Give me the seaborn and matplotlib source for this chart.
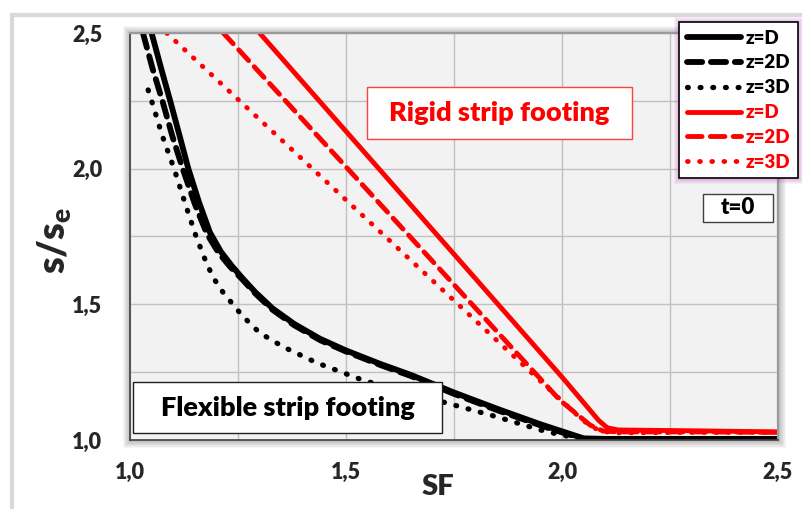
import matplotlib
matplotlib.use("Agg")
import matplotlib.pyplot as plt
from matplotlib.patches import Rectangle
from matplotlib.ticker import MultipleLocator, FixedLocator, FixedFormatter
import seaborn as sns
import pandas as pd

# ---------------- data ----------------
sf_flex_D = [1.050, 1.072, 1.093, 1.115, 1.135, 1.16, 1.185, 1.21, 1.235, 1.26, 1.29, 1.33,
             1.38, 1.44, 1.50, 1.58, 1.65, 1.75, 1.85, 1.95, 2.00, 2.05, 2.10, 2.50]
s_flex_D = [2.50, 2.37, 2.25, 2.12, 2.00, 1.875, 1.765, 1.695, 1.643, 1.597, 1.545, 1.485,
            1.428, 1.373, 1.330, 1.280, 1.240, 1.175, 1.115, 1.058, 1.032, 1.006, 1.004, 1.004]

sf_flex_2D = [1.030, 1.052, 1.075, 1.098, 1.122, 1.15, 1.178, 1.205, 1.232, 1.26, 1.29, 1.33,
              1.38, 1.44, 1.50, 1.58, 1.65, 1.75, 1.85, 1.95, 2.00, 2.05, 2.10, 2.50]
s_flex_2D = [2.50, 2.37, 2.25, 2.12, 2.00, 1.87, 1.76, 1.69, 1.638, 1.592, 1.54, 1.48,
             1.423, 1.368, 1.326, 1.276, 1.236, 1.170, 1.110, 1.054, 1.028, 1.004, 1.001, 1.001]

sf_flex_3D = [1.042, 1.05, 1.075, 1.102, 1.128, 1.153, 1.172, 1.192, 1.215, 1.238, 1.26, 1.30,
              1.355, 1.433, 1.54, 1.64, 1.734, 1.85, 1.95, 2.00, 2.05, 2.10, 2.50]
s_flex_3D = [2.29, 2.25, 2.12, 2.00, 1.87, 1.75, 1.672, 1.60, 1.545, 1.50, 1.458, 1.395,
             1.343, 1.284, 1.22, 1.175, 1.136, 1.085, 1.037, 1.018, 1.003, 1.000, 1.000]

sf_rigid_D = [1.30, 2.00, 2.085, 2.105, 2.13, 2.30, 2.50]
s_rigid_D = [2.50, 1.232, 1.072, 1.045, 1.037, 1.034, 1.030]

sf_rigid_2D = [1.216, 1.995, 2.065, 2.095, 2.13, 2.30, 2.50]
s_rigid_2D = [2.50, 1.147, 1.055, 1.033, 1.030, 1.030, 1.028]

sf_rigid_3D = [1.085, 1.98, 2.05, 2.085, 2.12, 2.30, 2.50]
s_rigid_3D = [2.50, 1.173, 1.07, 1.035, 1.026, 1.028, 1.028]

series_labels = ["z=D", "z=2D", "z=3D", "z=D", "z=2D", "z=3D"]
xtick_values = [1.0, 1.5, 2.0, 2.5]
xtick_labels = ["1,0", "1,5", "2,0", "2,5"]
ytick_values = [1.0, 1.5, 2.0, 2.5]
ytick_labels = ["1,0", "1,5", "2,0", "2,5"]
label_rigid = "Rigid strip footing"
label_flex = "Flexible strip footing"
label_time = "t=0"

# ---------------- style ----------------
sns.set_style("white")
plt.rcParams["font.family"] = ["Lato", "DejaVu Sans"]
plt.rcParams["font.weight"] = "heavy"
plt.rcParams["mathtext.default"] = "regular"
WT = "heavy"

W, H = 803, 509
fig = plt.figure(figsize=(W / 100, H / 100), dpi=100)
fig.patch.set_facecolor("white")

L, R, T, B = 130, 778, 33, 440
ax = fig.add_axes([L / W, 1 - B / H, (R - L) / W, (B - T) / H])
ax.set_facecolor("#f2f2f2")

# outer light frame
fig.add_artist(Rectangle((12 / W, -0.1), 1.2, 1 - 15 / H + 0.1, transform=fig.transFigure,
                         fill=False, edgecolor="#d9d9d9", lw=3.0, zorder=-3))
# soft shadow around plot area
for i in range(1, 8):
    fig.add_artist(Rectangle(((L - i) / W, 1 - (B + i + 1) / H), (R - L + 2 * i + 1) / W,
                             (B - T + 2 * i + 1) / H, transform=fig.transFigure,
                             facecolor="#000000", alpha=0.035, edgecolor="none", zorder=-2))

frames = [
    (sf_flex_D, s_flex_D, "black", "-", 4.2),
    (sf_flex_2D, s_flex_2D, "black", (0, (2.6, 1.5)), 4.2),
    (sf_flex_3D, s_flex_3D, "black", (0, (0.15, 2.25)), 3.8),
    (sf_rigid_D, s_rigid_D, "#ff0000", "-", 3.5),
    (sf_rigid_2D, s_rigid_2D, "#ff0000", (0, (3.0, 1.7)), 3.5),
    (sf_rigid_3D, s_rigid_3D, "#ff0000", (0, (0.15, 2.35)), 3.5),
]
handles = []
for (xs, ys, col, ls, lw), lab in zip(frames, series_labels):
    df = pd.DataFrame({"SF": xs, "s": ys})
    sns.lineplot(data=df, x="SF", y="s", ax=ax, color=col, linewidth=lw,
                 estimator=None, sort=False, label=lab, legend=False)
    line = ax.get_lines()[-1]
    line.set_linestyle(ls)
    line.set_linewidth(lw)
    line.set_dash_capstyle("round")
    line.set_solid_capstyle("round")
    line.set_solid_joinstyle("round")
    handles.append(line)

ax.set_xlim(1.0, 2.5)
ax.set_ylim(1.0, 2.5)
ax.xaxis.set_major_locator(FixedLocator(xtick_values))
ax.xaxis.set_major_formatter(FixedFormatter(xtick_labels))
ax.yaxis.set_major_locator(FixedLocator(ytick_values))
ax.yaxis.set_major_formatter(FixedFormatter(ytick_labels))
ax.xaxis.set_minor_locator(MultipleLocator(0.25))
ax.yaxis.set_minor_locator(MultipleLocator(0.25))
ax.grid(which="both", color="#c0c0c0", lw=1.0)
ax.set_axisbelow(True)
ax.tick_params(axis="both", which="both", direction="out", length=7, width=1.0,
               color="#404040", labelsize=15.5)
ax.tick_params(axis="x", which="minor", length=0)
ax.tick_params(axis="x", which="major", pad=9)
ax.tick_params(axis="y", which="major", pad=13)

for side in ["left", "bottom"]:
    ax.spines[side].set_color("#404040")
    ax.spines[side].set_linewidth(1.2)
for side in ["top", "right"]:
    ax.spines[side].set_color("#9a9a9a")
    ax.spines[side].set_linewidth(1.6)

ax.set_xlabel("SF", fontsize=21, fontweight=WT)
ax.xaxis.set_label_coords((438 - L) / (R - L), -0.083)
ax.set_ylabel(r"s/s$_\mathregular{e}$", fontsize=27, fontweight=WT)
ax.yaxis.set_label_coords((73 - L) / (R - L), 0.49)


def axbox(x0, x1, y0, y1, edge, text, color, fs, lw=1.0):
    ax0, ax1 = (x0 - L) / (R - L), (x1 - L) / (R - L)
    ay0, ay1 = (B - y1) / (B - T), (B - y0) / (B - T)
    ax.add_patch(Rectangle((ax0, ay0), ax1 - ax0, ay1 - ay0, transform=ax.transAxes,
                           facecolor="white", edgecolor=edge, lw=lw, zorder=6, clip_on=False))
    ax.text((ax0 + ax1) / 2, (ay0 + ay1) / 2, text, transform=ax.transAxes, ha="center",
            va="center", color=color, fontsize=fs, fontweight=WT, zorder=7)


axbox(367, 632, 87, 139, "#ff4040", label_rigid, "#ff0000", 19.5)
axbox(703, 773, 194, 222, "#404040", label_time, "black", 16)
axbox(133, 442, 382, 433, "#202020", label_flex, "black", 19.5)

leg = fig.legend(handles=handles, labels=series_labels, loc="upper right",
                 bbox_to_anchor=(798 / W, 1 - 22 / H), frameon=True, fancybox=False,
                 edgecolor="black", framealpha=1, handlelength=2.9,
                 handletextpad=0.25, labelspacing=0.42, borderpad=0.4, borderaxespad=0,
                 labelcolor="linecolor", prop={"weight": WT, "size": 13.5})
leg.get_frame().set_linewidth(1.2)
leg.set_zorder(10)

fig.canvas.draw()
bb = leg.get_window_extent()
for i in range(1, 6):
    fig.add_artist(Rectangle(((bb.x0 - i) / W, (bb.y0 - i - 1) / H), (bb.width + 2 * i + 1) / W,
                             (bb.height + 2 * i + 1) / H, transform=fig.transFigure,
                             facecolor="#c040c0", alpha=0.07, edgecolor="none", zorder=9))

fig.savefig("out.png", dpi=100)
